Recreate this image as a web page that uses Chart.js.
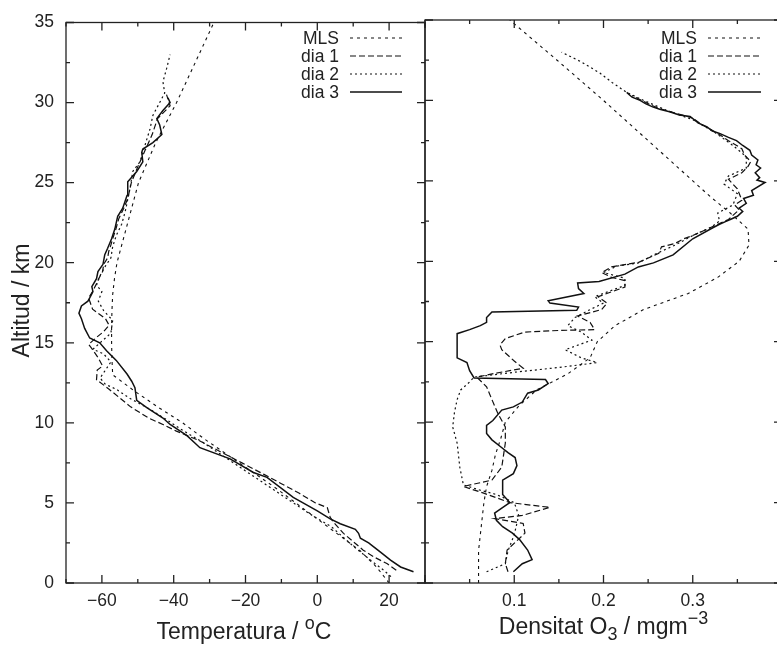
<!DOCTYPE html>
<html>
<head>
<meta charset="utf-8">
<script src="https://cdn.jsdelivr.net/npm/chart.js@4/dist/chart.umd.min.js"></script>
<style>
  html, body { margin: 0; padding: 0; background: #fff; overflow: hidden; width: 777px; height: 646px; }
  #wrap { position: relative; width: 777px; height: 646px; overflow: hidden; }
  #tempChart { position: absolute; left: 0; top: 0; }
  #ozoneChart { position: absolute; left: 417px; top: 0; }
</style>
</head>
<body>
<div id="wrap">
  <canvas id="tempChart" width="433" height="646"></canvas>
  <canvas id="ozoneChart" width="373" height="646"></canvas>
</div>
<script>
// series names, same order in both panels
const seriesNames = ["MLS", "dia 1", "dia 2", "dia 3"];

// temperature profiles: [°C, km]
const tempMLS = [[20,0],[16.5,1],[12,2],[6,3],[0,4],[-6,5],[-12,6],[-18.5,7],[-25,8],[-31.5,9],[-37.5,10],[-44.5,11],[-51,12],[-57,13],[-57.2,14],[-57.3,15],[-57.3,16],[-57.2,17],[-57,18],[-56.5,19],[-55.8,20],[-54.6,21],[-53.4,22],[-52.2,23],[-51,24],[-49.8,25],[-45,27.5],[-39.2,30],[-34,32.5],[-28.8,35]];
const tempDia1 = [[22,0.8],[19.5,1.2],[16,1.6],[12.8,2.05],[7.3,3.1],[4.5,3.8],[3.6,4.1],[2.8,4.7],[-0.5,5.0],[-5,5.6],[-10,6.2],[-15,6.8],[-21,7.5],[-27,8.2],[-33,8.9],[-39.4,9.5],[-43,9.9],[-47,10.3],[-52,11.0],[-58,12.1],[-61.5,12.7],[-61.3,13.3],[-59.8,13.55],[-61,14.05],[-63,14.7],[-63.7,14.9],[-61.7,15.3],[-59.5,15.7],[-58,16.1],[-59,16.5],[-62.6,17.1],[-63.7,17.8],[-62.6,18.2],[-61.7,18.6],[-60.9,19.0],[-59.8,19.45],[-59.5,19.9],[-58.4,20.3],[-58.1,20.7],[-57.5,21.1],[-57,21.5],[-56.1,22.1],[-55.3,22.75],[-53.9,23.4],[-52.8,24.0],[-51.8,25],[-50,26],[-48,27],[-46,28],[-44.5,29],[-41,29.8],[-42,30.5]];
const tempDia2 = [[20.5,0.4],[18.5,0.8],[15,1.4],[10,2.3],[4,3.5],[-2,4.3],[-8,5.2],[-14,6.1],[-20,7.0],[-26,7.9],[-32,8.8],[-38,9.6],[-42,10.2],[-47,10.9],[-52,11.5],[-56,12.1],[-59,12.4],[-60.5,12.8],[-59,13.3],[-57.5,13.8],[-59.5,14.3],[-62.5,14.6],[-60,15.1],[-57.5,15.6],[-57,16.4],[-59.5,17.0],[-61,17.6],[-60,18.2],[-61.5,18.6],[-60.5,19.2],[-59,19.8],[-57.5,20.3],[-57,21],[-56,21.7],[-54.5,22.4],[-53.5,23.2],[-52.2,24.6],[-51.4,25.7],[-49.4,26.3],[-47.5,27.7],[-46.6,28.35],[-45.8,29.2],[-43.9,30],[-42.5,30.6],[-43,31.3],[-42,32.1],[-41,33.0]];
const tempDia3 = [[26.8,0.7],[23.2,1.0],[20.4,1.43],[17.6,1.93],[14.3,2.5],[12,2.8],[11.5,3.1],[10.6,3.35],[6.4,3.7],[3.6,4.0],[0,4.5],[-6.7,5.35],[-14,6.6],[-17.8,6.9],[-24.3,7.75],[-32.7,8.45],[-36.3,9.2],[-41,9.9],[-43,10.3],[-47.5,10.95],[-50.3,11.4],[-50.8,12.2],[-51.7,12.6],[-53,13.05],[-56,13.9],[-58.7,14.5],[-60.6,15.0],[-63.4,15.3],[-64.8,15.9],[-65.7,16.5],[-66.4,16.85],[-65.7,17.3],[-63.9,17.6],[-63.4,17.8],[-62.5,18.2],[-62.8,18.5],[-61.5,19.0],[-61.1,19.45],[-59.7,19.9],[-59.2,20.5],[-58.4,20.9],[-57.3,21.5],[-56.4,22.1],[-55.6,22.9],[-54.2,23.4],[-53,24.2],[-52.8,25.05],[-50.3,25.7],[-48.6,26.3],[-48.9,26.9],[-48.6,27.1],[-45.8,27.5],[-43.3,28.0],[-43.9,28.6],[-44.7,29.0],[-43,29.5],[-41,30.0],[-41.6,30.3]];

// ozone density profiles: [mg/m3, km]
const ozoneMLS = [[0.06,0],[0.06,1],[0.06,2],[0.062,3],[0.064,4],[0.066,5],[0.069,6],[0.075,7],[0.079,8],[0.085,9],[0.09,10],[0.105,11],[0.125,12],[0.16,13],[0.185,14],[0.193,15],[0.213,16],[0.245,17],[0.295,18],[0.328,19],[0.352,20],[0.363,21],[0.362,22],[0.342,23],[0.32,24],[0.3,25],[0.25,27.5],[0.2,30],[0.148,32.5],[0.095,35]];
const ozoneDia1 = [[0.093,0.7],[0.09,1.2],[0.092,2.05],[0.112,3.1],[0.11,3.7],[0.078,4.0],[0.109,4.2],[0.14,4.7],[0.095,5.0],[0.065,5.6],[0.043,6.0],[0.075,6.4],[0.086,7.2],[0.09,8.7],[0.09,9.7],[0.082,10.5],[0.075,11.4],[0.069,12.2],[0.058,12.8],[0.08,13.05],[0.11,13.35],[0.1,13.8],[0.086,14.5],[0.084,14.8],[0.09,15.2],[0.112,15.6],[0.15,15.7],[0.19,15.75],[0.185,16.2],[0.171,16.6],[0.198,17.0],[0.204,17.4],[0.194,17.8],[0.224,18.4],[0.224,18.8],[0.209,19.0],[0.198,19.3],[0.209,19.65],[0.24,19.95],[0.262,20.5],[0.265,20.9],[0.28,21.1],[0.29,21.4],[0.3,21.6],[0.32,22.1],[0.34,22.6],[0.352,23.2],[0.347,23.5],[0.355,23.8],[0.35,24.5],[0.34,25.1],[0.355,25.5],[0.362,25.9],[0.365,26.2],[0.358,26.6],[0.355,27],[0.34,27.5],[0.332,27.8],[0.32,28.2],[0.31,28.5],[0.3,28.9],[0.275,29.3],[0.262,29.5],[0.25,29.8],[0.232,30.3]];
const ozoneDia2 = [[0.069,0.7],[0.09,1.2],[0.093,2.0],[0.1,3.0],[0.105,4.2],[0.1,5.0],[0.08,5.5],[0.06,5.8],[0.043,6.1],[0.039,7.2],[0.036,8.7],[0.031,9.7],[0.033,10.6],[0.036,11.4],[0.04,12.0],[0.05,12.5],[0.055,12.8],[0.1,13.1],[0.15,13.4],[0.193,13.7],[0.175,14.0],[0.157,14.5],[0.187,15.1],[0.175,15.6],[0.16,16.0],[0.168,16.5],[0.185,17.0],[0.2,17.4],[0.19,17.8],[0.224,18.5],[0.224,18.95],[0.2,19.3],[0.215,19.7],[0.239,19.9],[0.26,20.5],[0.28,21.0],[0.3,21.6],[0.32,22.1],[0.33,22.5],[0.328,23.0],[0.345,23.5],[0.35,24.2],[0.335,24.8],[0.34,25.3],[0.36,25.8],[0.36,26.5],[0.345,27.2],[0.325,28],[0.3,28.8],[0.27,29.4],[0.245,30.0],[0.226,30.5],[0.21,31.1],[0.196,31.7],[0.175,32.4],[0.153,33.0]];
const ozoneDia3 = [[0.099,0.7],[0.109,1.2],[0.12,1.45],[0.115,2.05],[0.106,2.7],[0.098,3.1],[0.087,3.5],[0.08,3.9],[0.078,4.35],[0.086,4.65],[0.095,5.0],[0.087,5.5],[0.087,6.4],[0.099,6.8],[0.103,7.3],[0.101,7.8],[0.093,8.1],[0.084,8.5],[0.075,8.9],[0.069,9.3],[0.069,9.8],[0.076,10.1],[0.086,10.75],[0.099,10.95],[0.109,11.25],[0.115,11.8],[0.127,12.0],[0.138,12.4],[0.135,12.65],[0.055,12.75],[0.05,13.2],[0.047,13.7],[0.036,14.0],[0.036,15.5],[0.05,15.75],[0.062,16.0],[0.069,16.2],[0.069,16.5],[0.075,16.85],[0.17,16.95],[0.172,17.15],[0.14,17.4],[0.138,17.55],[0.178,18.0],[0.172,18.3],[0.171,18.65],[0.195,18.75],[0.224,19.2],[0.239,19.65],[0.256,19.9],[0.278,20.4],[0.3,21.4],[0.323,22.1],[0.33,22.3],[0.336,22.45],[0.342,22.6],[0.35,22.8],[0.356,23.1],[0.352,23.3],[0.36,23.6],[0.357,23.9],[0.368,24.1],[0.366,24.4],[0.381,24.9],[0.372,25.05],[0.375,25.2],[0.37,25.5],[0.376,25.8],[0.371,26.0],[0.373,26.3],[0.366,26.6],[0.364,26.9],[0.356,27.2],[0.349,27.5],[0.34,27.7],[0.33,27.95],[0.322,28.1],[0.316,28.35],[0.306,28.6],[0.297,29.0],[0.285,29.1],[0.274,29.3],[0.263,29.45],[0.255,29.6],[0.247,29.8],[0.241,30.0],[0.232,30.2],[0.226,30.5]];

// line styles per series
const seriesDash = [[3, 4], [6, 3], [2, 3], []];
const seriesWidth = [1.1, 1.2, 1.2, 1.5];

const FAMILY = '"Liberation Sans", Arial, Helvetica, sans-serif';
const INK = "#222";
const tickFont = { family: FAMILY, size: 17.5 };

function isMajor(v, step) {
  const r = v / step;
  return Math.abs(r - Math.round(r)) < 1e-6;
}

function makeDatasets(profiles) {
  return profiles.map((pairs, i) => ({
    label: seriesNames[i],
    data: pairs.map(p => ({ x: p[0], y: p[1] })),
    showLine: true,
    pointRadius: 0,
    borderColor: "#111",
    borderWidth: seriesWidth[i],
    borderDash: seriesDash[i],
    fill: false,
    tension: 0,
  }));
}

// text with sub/superscripts: parts = [[text, shift]], shift -1 sub, 1 sup
function drawRich(ctx, parts, cx, baseY, size) {
  const small = size * 0.78;
  const fontOf = p => (p[1] ? small : size) + "px " + FAMILY;
  let total = 0;
  parts.forEach(p => { ctx.font = fontOf(p); total += ctx.measureText(p[0]).width; });
  let x = cx - total / 2;
  ctx.textAlign = "left";
  ctx.textBaseline = "alphabetic";
  parts.forEach(p => {
    ctx.font = fontOf(p);
    const dy = p[1] > 0 ? -size * 0.45 : p[1] < 0 ? size * 0.28 : 0;
    ctx.fillText(p[0], x, baseY + dy);
    x += ctx.measureText(p[0]).width;
  });
}

// frame with inward ticks, key and axis titles
function decor(cfg) {
  return {
    id: "decor",
    afterDatasetsDraw(chart) {
      const { ctx, chartArea: a } = chart;
      const xs = chart.scales.x, ys = chart.scales.y;
      ctx.save();
      ctx.strokeStyle = INK;
      ctx.lineWidth = 1.3;
      ctx.setLineDash([]);
      ctx.strokeRect(a.left, a.top, a.right - a.left, a.bottom - a.top);
      ctx.beginPath();
      xs.ticks.forEach(t => {
        const px = xs.getPixelForValue(t.value);
        const len = isMajor(t.value, cfg.majorX) ? 8 : 4;
        ctx.moveTo(px, a.bottom); ctx.lineTo(px, a.bottom - len);
        ctx.moveTo(px, a.top); ctx.lineTo(px, a.top + len);
      });
      ys.ticks.forEach(t => {
        const py = ys.getPixelForValue(t.value);
        const len = isMajor(t.value, 5) ? 8 : 4;
        ctx.moveTo(a.left, py); ctx.lineTo(a.left + len, py);
        ctx.moveTo(a.right, py); ctx.lineTo(a.right - len, py);
      });
      ctx.stroke();

      // key
      ctx.fillStyle = INK;
      ctx.font = "17.5px " + FAMILY;
      ctx.textAlign = "right";
      ctx.textBaseline = "alphabetic";
      chart.data.datasets.forEach((ds, i) => {
        const base = 44 + i * 18;
        ctx.fillText(ds.label, cfg.keyText, base);
        ctx.save();
        ctx.strokeStyle = "#111";
        ctx.lineWidth = ds.borderWidth;
        ctx.setLineDash(ds.borderDash);
        ctx.beginPath();
        ctx.moveTo(cfg.keyFrom, base - 6);
        ctx.lineTo(cfg.keyTo, base - 6);
        ctx.stroke();
        ctx.restore();
      });

      // axis titles
      drawRich(ctx, cfg.xTitle, cfg.xTitleX, cfg.xTitleY, 23);
      if (cfg.yTitle) {
        ctx.save();
        ctx.translate(29, 300.5);
        ctx.rotate(-Math.PI / 2);
        ctx.font = "23px " + FAMILY;
        ctx.textAlign = "center";
        ctx.textBaseline = "alphabetic";
        ctx.fillText(cfg.yTitle, 0, 0);
        ctx.restore();
      }
      ctx.restore();
    },
  };
}

const yTicks = {
  stepSize: 2.5,
  autoSkip: false,
  padding: 12,
  color: INK,
  font: tickFont,
  callback: v => (isMajor(v, 5) ? String(v) : ""),
};

// left panel: temperature
new Chart(document.getElementById("tempChart"), {
  type: "scatter",
  data: { datasets: makeDatasets([tempMLS, tempDia1, tempDia2, tempDia3]) },
  options: {
    responsive: false,
    animation: false,
    layout: { padding: { top: 20, right: 8, left: 0, bottom: 0 } },
    plugins: { legend: { display: false }, tooltip: { enabled: false } },
    scales: {
      x: {
        type: "linear",
        min: -70,
        max: 30,
        ticks: {
          stepSize: 10,
          autoSkip: false,
          maxRotation: 0,
          minRotation: 0,
          padding: 8,
          color: INK,
          font: tickFont,
          callback: v => (isMajor(v, 20) ? (v < 0 ? "\u2212" + -v : String(v)) : ""),
        },
        grid: { display: false, drawTicks: false },
        border: { display: false },
        afterFit: s => { s.height = 63; },
      },
      y: {
        type: "linear",
        min: 0,
        max: 35,
        ticks: yTicks,
        grid: { display: false, drawTicks: false },
        border: { display: false },
        afterFit: s => { s.width = 66; },
      },
    },
  },
  plugins: [decor({
    majorX: 20,
    keyText: 339, keyFrom: 350, keyTo: 402,
    xTitle: [["Temperatura / ", 0], ["o", 1], ["C", 0]],
    xTitleX: 244, xTitleY: 639,
    yTitle: "Altitud / km",
  })],
});

// right panel: ozone density (canvas starts at x = 417)
new Chart(document.getElementById("ozoneChart"), {
  type: "scatter",
  data: { datasets: makeDatasets([ozoneMLS, ozoneDia1, ozoneDia2, ozoneDia3]) },
  options: {
    responsive: false,
    animation: false,
    layout: { padding: { top: 20, right: 8, left: 8, bottom: 0 } },
    plugins: { legend: { display: false }, tooltip: { enabled: false } },
    scales: {
      x: {
        type: "linear",
        min: 0,
        max: 0.4,
        ticks: {
          stepSize: 0.05,
          autoSkip: false,
          maxRotation: 0,
          minRotation: 0,
          padding: 8,
          color: INK,
          font: tickFont,
          callback: v => {
            const r = Math.round(v * 100);
            return r === 10 || r === 20 || r === 30 ? (r / 100).toFixed(1) : "";
          },
        },
        grid: { display: false, drawTicks: false },
        border: { display: false },
        afterFit: s => { s.height = 63; },
      },
      y: {
        type: "linear",
        min: 0,
        max: 35,
        ticks: Object.assign({}, yTicks, { display: false }),
        grid: { display: false, drawTicks: false },
        border: { display: false },
        afterFit: s => { s.width = 0; },
      },
    },
  },
  plugins: [decor({
    majorX: 0.1,
    keyText: 280, keyFrom: 291, keyTo: 344,
    xTitle: [["Densitat O", 0], ["3", -1], [" / mgm", 0], ["\u22123", 1]],
    xTitleX: 186.5, xTitleY: 634,
  })],
});
</script>
</body>
</html>
